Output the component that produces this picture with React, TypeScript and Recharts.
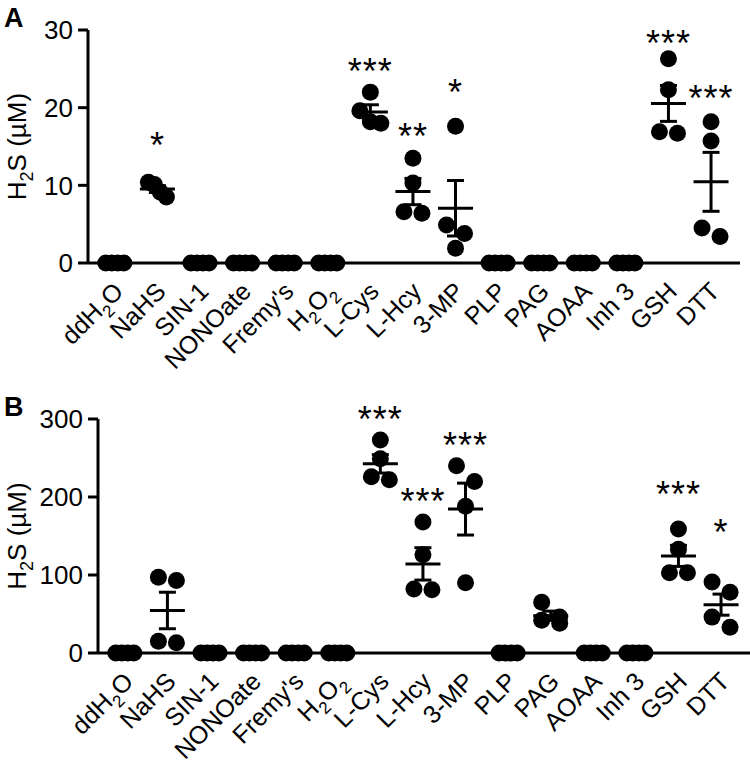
import React from 'react';
import { ComposedChart, Scatter, XAxis, YAxis, ErrorBar, ReferenceDot } from 'recharts';

// treatment groups; "_2" marks a subscript digit
const categories = ['ddH_2O', 'NaHS', 'SIN-1', 'NONOate', "Fremy's", 'H_2O_2', 'L-Cys', 'L-Hcy', '3-MP', 'PLP', 'PAG', 'AOAA', 'Inh 3', 'GSH', 'DTT'];

const zeros = [0, 0, 0, 0];

// panel A, H2S (µM), 4 replicates per group
const valuesA: number[][] = [
  zeros, [10.4, 10.1, 9.1, 8.5], zeros, zeros, zeros, zeros,
  [22.0, 19.6, 18.2, 18.0], [13.5, 10.3, 6.6, 6.4], [17.6, 4.9, 3.8, 1.9],
  zeros, zeros, zeros, zeros,
  [26.3, 22.3, 16.9, 16.7], [18.2, 15.7, 4.5, 3.4],
];
const starsA = ['', '*', '', '', '', '', '***', '**', '*', '', '', '', '', '***', '***'];
const starLevelA = [0, 16.2, 0, 0, 0, 0, 25.7, 17.4, 23.0, 0, 0, 0, 0, 29.4, 22.3];
const ticksA = [0, 10, 20, 30];

// panel B
const valuesB: number[][] = [
  zeros, [97, 93, 15, 13], zeros, zeros, zeros, zeros,
  [273, 249, 226, 222], [168, 126, 82, 81], [240, 220, 188, 90],
  zeros, [65, 46, 42, 38], zeros, zeros,
  [159, 133, 103, 103], [91, 78, 46, 33],
];
const starsB = ['', '', '', '', '', '', '***', '***', '***', '', '', '', '', '***', '*'];
const starLevelB = [0, 0, 0, 0, 0, 0, 310, 205, 277, 0, 0, 0, 0, 214, 165];
const ticksB = [0, 100, 200, 300];

const FONT = '"Liberation Sans", Arial, Helvetica, sans-serif';
const DOT_R = 8.5;
const X_DOMAIN: [number, number] = [-0.63, 14.68];
const PLOT_W = 652;
const PLOT_H = 234;

const mean = (v: number[]) => v.reduce((a, b) => a + b, 0) / v.length;
const sem = (v: number[]) => {
  const m = mean(v);
  const sd = Math.sqrt(v.reduce((a, b) => a + (b - m) ** 2, 0) / (v.length - 1));
  return sd / Math.sqrt(v.length);
};

// prism-like column scatter: points closer than a dot spread out in a centred row
function swarm(vals: number[], yMax: number) {
  const pxY = PLOT_H / yMax;
  const pxX = PLOT_W / (X_DOMAIN[1] - X_DOMAIN[0]);
  const order = vals.map((_, i) => i).sort((a, b) => vals[b] - vals[a]);
  const rows: number[][] = [];
  order.forEach((i) => {
    const row = rows[rows.length - 1];
    if (row && (vals[row[0]] - vals[i]) * pxY < 2 * DOT_R) row.push(i);
    else rows.push([i]);
  });
  const offs = new Array(vals.length).fill(0);
  rows.forEach((row) => {
    const k = row.length;
    if (k < 2) return;
    const span = k === 2 ? 18 : k === 3 ? 21 : 18;
    row.forEach((i, j) => {
      offs[i] = (-span / 2 + (span * j) / (k - 1)) / pxX;
    });
  });
  return offs;
}

const subscripted = (label: string, sub: number, shift: number) =>
  label.split(/_(\d)/).map((part, i) =>
    i % 2 === 1 ? (
      <tspan key={i} fontSize={sub} dy={shift}>{part}</tspan>
    ) : (
      <tspan key={i} dy={i > 0 ? -shift : 0}>{part}</tspan>
    )
  );

const CategoryTick = (props: any) => {
  const { x, y, payload } = props;
  const label = categories[payload.value];
  if (label === undefined) return null;
  return (
    <g transform={`translate(${x + 10},${y + 30}) rotate(-45)`}>
      <text x={0} y={0} textAnchor="end" fontSize={25} fontFamily={FONT} fill="#000">
        {subscripted(label, 17, 7)}
      </text>
    </g>
  );
};

const Dot = (p: any) => <circle cx={p.cx} cy={p.cy} r={DOT_R} fill="#000" />;
const MeanLine = (p: any) => <line x1={p.cx - 17.5} x2={p.cx + 17.5} y1={p.cy} y2={p.cy} stroke="#000" strokeWidth={3} />;

interface PanelProps {
  letter: string;
  values: number[][];
  stars: string[];
  starLevel: number[];
  ticks: number[];
  top: number;
  height: number;
  yAxisWidth: number;
  xAxisHeight: number;
  right: number;
}

const Panel: React.FC<PanelProps> = ({ letter, values, stars, starLevel, ticks, top, height, yAxisWidth, xAxisHeight, right }) => {
  const yMax = ticks[ticks.length - 1];
  const points = values.flatMap((v, i) => {
    const offs = swarm(v, yMax);
    return v.map((y, j) => ({ x: i + offs[j], y }));
  });
  const means = values.map((v, i) => ({ x: i, y: mean(v), sem: sem(v) }));
  const plotMid = 30 + (height - xAxisHeight - 30) / 2;

  return (
    <div style={{ position: 'absolute', left: 0, top, width: 750, height }}>
      <ComposedChart width={750} height={height} margin={{ top: 30, right, left: 0, bottom: 0 }}>
        <XAxis
          type="number" dataKey="x" domain={X_DOMAIN} ticks={categories.map((_, i) => i)} interval={0}
          height={xAxisHeight} tickSize={0} tickMargin={0} tickLine={false}
          axisLine={{ stroke: '#000', strokeWidth: 3 }} tick={<CategoryTick />}
        />
        <YAxis
          type="number" dataKey="y" domain={[0, yMax]} ticks={ticks} interval={0} width={yAxisWidth}
          tickSize={10} tickMargin={5}
          axisLine={{ stroke: '#000', strokeWidth: 3 }} tickLine={{ stroke: '#000', strokeWidth: 3 }}
          tick={{ fontSize: 26, fill: '#000', fontFamily: FONT }}
        />
        <Scatter data={points} shape={<Dot />} isAnimationActive={false} />
        <Scatter data={means} shape={<MeanLine />} isAnimationActive={false}>
          <ErrorBar dataKey="sem" direction="y" width={8.5} stroke="#000" strokeWidth={3} isAnimationActive={false} />
        </Scatter>
        {stars.map((s, i) =>
          s ? (
            <ReferenceDot
              key={i} x={i} y={starLevel[i]} r={1} ifOverflow="visible"
              shape={(p: any) => (
                <text x={p.cx} y={p.cy + 21} textAnchor="middle" fontSize={36} letterSpacing={1} fontFamily={FONT} fill="#000">{s}</text>
              )}
            />
          ) : null
        )}
      </ComposedChart>
      <svg width={750} height={height} style={{ position: 'absolute', left: 0, top: 0, pointerEvents: 'none' }}>
        <text x={4} y={27} fontSize={27} fontWeight="bold" fontFamily={FONT} fill="#000">{letter}</text>
        <text x={26} y={plotMid} transform={`rotate(-90 26 ${plotMid})`} textAnchor="middle" fontSize={26} fontFamily={FONT} fill="#000">
          {subscripted('H_2S (\u00B5M)', 18, 7)}
        </text>
      </svg>
    </div>
  );
};

export default function App() {
  return (
    <div style={{ position: 'absolute', left: 0, top: 0, width: 750, height: 767, background: '#fff', overflow: 'hidden' }}>
      <Panel letter="A" values={valuesA} stars={starsA} starLevel={starLevelA} ticks={ticksA}
        top={0} height={383} yAxisWidth={88} xAxisHeight={120} right={10} />
      <Panel letter="B" values={valuesB} stars={starsB} starLevel={starLevelB} ticks={ticksB}
        top={389} height={378} yAxisWidth={98} xAxisHeight={114} right={0} />
    </div>
  );
}
